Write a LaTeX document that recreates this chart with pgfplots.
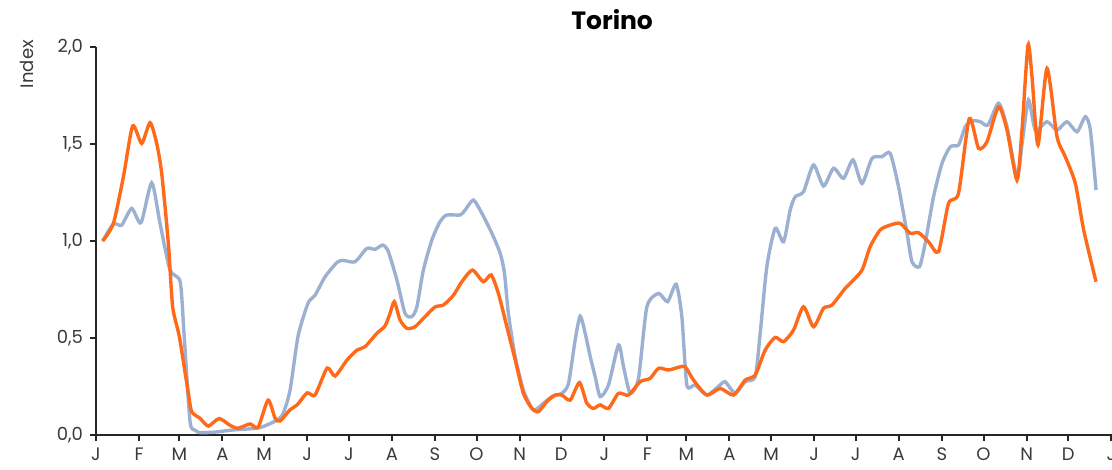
\documentclass[border=0pt]{standalone}
\usepackage{fontspec}
\setmainfont{Poppins}
\usepackage{pgfplots}
\pgfplotsset{compat=1.18}
\definecolor{orng}{HTML}{FF6A1A}
\definecolor{gblue}{HTML}{9CB1D2}
\definecolor{axgray}{HTML}{262626}
\definecolor{txtgray}{HTML}{3A3A3A}
\begin{document}
\begin{tikzpicture}
\begin{axis}[
  scale only axis, width=508pt, height=194pt,
  xmin=0, xmax=731.5, ymin=0, ymax=2,
  clip=false,
  axis x line*=bottom, axis y line*=left,
  axis line style={axgray, line width=1pt},
  xtick={0,31,60,91,121,152,182,213,244,274,305,335,366,397,425,456,486,517,547,578,609,639,670,700,731},
  xticklabels={J,F,M,A,M,J,J,A,S,O,N,D,J,F,M,A,M,J,J,A,S,O,N,D,J},
  ytick={0,0.5,1,1.5,2},
  tick align=outside, major tick length=3pt,
  tick style={axgray, line width=1pt},
  /pgf/number format/assume math mode=true,
  yticklabel style={/pgf/number format/.cd, fixed, fixed zerofill, precision=1, use comma},
  ticklabel style={font=\fontsize{9}{10}\selectfont, text=txtgray},
  ylabel={Index},
  ylabel style={at={([xshift=-34.5pt]rel axis cs:0,0.956)}, anchor=center, rotate=0, font=\fontsize{9}{10}\selectfont, text=txtgray},
  title={Torino},
  title style={font=\bfseries\fontsize{12.5}{14}\selectfont, at={(rel axis cs:0.508,1)}, anchor=base, yshift=2.5pt},
]
\coordinate (sw) at (rel axis cs:0,0);
\coordinate (ne) at (rel axis cs:1,1);
\addplot[gblue, line width=1.7pt, smooth, tension=0.4] coordinates {
(4.8,1.00)(12.5,1.088)(18.5,1.082)(25.7,1.168)(32.4,1.094)(40.1,1.30)(46.1,1.091)(53.3,0.85)(60.6,0.79)(63.4,0.52)(67.7,0.07)(71.3,0.025)(74.9,0.012)(85.7,0.015)(98.7,0.026)(116.0,0.035)(123.2,0.052)(130.4,0.077)(134.7,0.11)(139.7,0.23)(145.5,0.51)(152.7,0.68)(157.7,0.72)(164.9,0.815)(173.6,0.89)(177.9,0.90)(186.5,0.893)(195.0,0.962)(200.9,0.957)(206.5,0.979)(210.5,0.945)(216.6,0.80)(222.5,0.627)(227.4,0.61)(231.0,0.66)(235.7,0.85)(241.8,1.005)(247.7,1.10)(252.6,1.134)(262.2,1.134)(265.8,1.16)(271.7,1.211)(277.8,1.143)(285.0,1.04)(291.0,0.937)(294.1,0.833)(296.9,0.627)(301.8,0.404)(307.7,0.232)(314.9,0.129)(322.1,0.163)(328.2,0.198)(335.4,0.215)(340.2,0.266)(345.0,0.49)(348.6,0.613)(352.2,0.524)(355.8,0.405)(359.4,0.30)(363.0,0.198)(369.0,0.258)(376.2,0.464)(379.8,0.352)(384.6,0.215)(390.6,0.292)(396.6,0.66)(405.0,0.73)(411.5,0.687)(417.7,0.777)(421.8,0.61)(425.4,0.258)(431.4,0.258)(439.8,0.206)(449.4,0.258)(453.0,0.275)(460.2,0.215)(467.4,0.275)(474.6,0.30)(478.2,0.524)(483.0,0.868)(489.0,1.065)(495.0,0.996)(499.8,1.16)(503.4,1.228)(509.4,1.254)(516.6,1.392)(523.8,1.283)(531.0,1.375)(538.2,1.323)(545.0,1.418)(551.5,1.297)(558.7,1.426)(565.9,1.435)(571.8,1.452)(577.8,1.28)(583.9,1.04)(587.5,0.893)(592.9,0.868)(597.0,0.988)(603.0,1.228)(609.1,1.40)(615.1,1.486)(621.0,1.495)(625.9,1.589)(630.7,1.62)(636.7,1.615)(642.2,1.598)(649.8,1.71)(655.9,1.589)(663.1,1.331)(667.1,1.52)(671.4,1.727)(676.3,1.572)(684.7,1.615)(691.9,1.572)(699.1,1.615)(706.3,1.563)(712.3,1.641)(715.9,1.572)(720.0,1.263)
};
\addplot[orng, line width=1.7pt, smooth, tension=0.4] coordinates {
(4.8,1.00)(12.5,1.09)(19.7,1.33)(26.4,1.593)(32.9,1.503)(38.9,1.61)(43.7,1.503)(47.3,1.349)(52.1,0.988)(55.2,0.661)(60.0,0.507)(66.5,0.215)(68.9,0.12)(74.9,0.086)(80.9,0.046)(88.6,0.085)(96.5,0.05)(102.3,0.035)(110.9,0.057)(116.7,0.04)(123.9,0.18)(128.9,0.087)(132.5,0.072)(139.7,0.13)(144.8,0.155)(152.0,0.217)(157.7,0.206)(166.4,0.345)(172.1,0.304)(180.8,0.387)(188.0,0.438)(193.7,0.455)(202.2,0.524)(208.1,0.562)(211.7,0.627)(214.8,0.687)(218.9,0.593)(223.8,0.55)(229.7,0.558)(236.9,0.61)(244.1,0.66)(250.1,0.67)(257.3,0.72)(263.4,0.79)(271.0,0.85)(278.9,0.79)(284.5,0.825)(289.7,0.73)(295.8,0.558)(301.8,0.387)(307.7,0.215)(313.8,0.137)(318.5,0.12)(324.6,0.172)(330.6,0.206)(335.4,0.206)(341.4,0.18)(348.1,0.27)(353.4,0.163)(358.2,0.137)(363.0,0.155)(369.0,0.137)(376.2,0.215)(383.4,0.206)(391.8,0.275)(399.0,0.292)(405.0,0.344)(412.2,0.335)(419.4,0.349)(424.2,0.352)(430.2,0.283)(439.8,0.206)(449.4,0.24)(459.0,0.206)(467.4,0.283)(474.6,0.309)(481.8,0.438)(489.0,0.503)(495.0,0.481)(502.2,0.541)(509.4,0.661)(516.6,0.558)(523.8,0.653)(529.9,0.67)(539.4,0.756)(543.0,0.782)(551.5,0.85)(557.4,0.971)(564.6,1.057)(571.8,1.082)(579.0,1.091)(586.2,1.04)(592.2,1.043)(599.4,0.996)(606.6,0.945)(613.8,1.194)(621.0,1.246)(628.7,1.63)(635.4,1.478)(641.5,1.512)(649.8,1.692)(655.9,1.572)(663.1,1.314)(666.7,1.572)(671.0,2.01)(673.9,1.847)(678.2,1.495)(684.7,1.89)(691.9,1.538)(697.9,1.434)(705.1,1.297)(711.1,1.057)(720.0,0.79)
};
\end{axis}
\pgfresetboundingbox
\path ([xshift=-48pt,yshift=-17.5pt]sw) rectangle ([yshift=23.5pt]ne);
\end{tikzpicture}
\end{document}
